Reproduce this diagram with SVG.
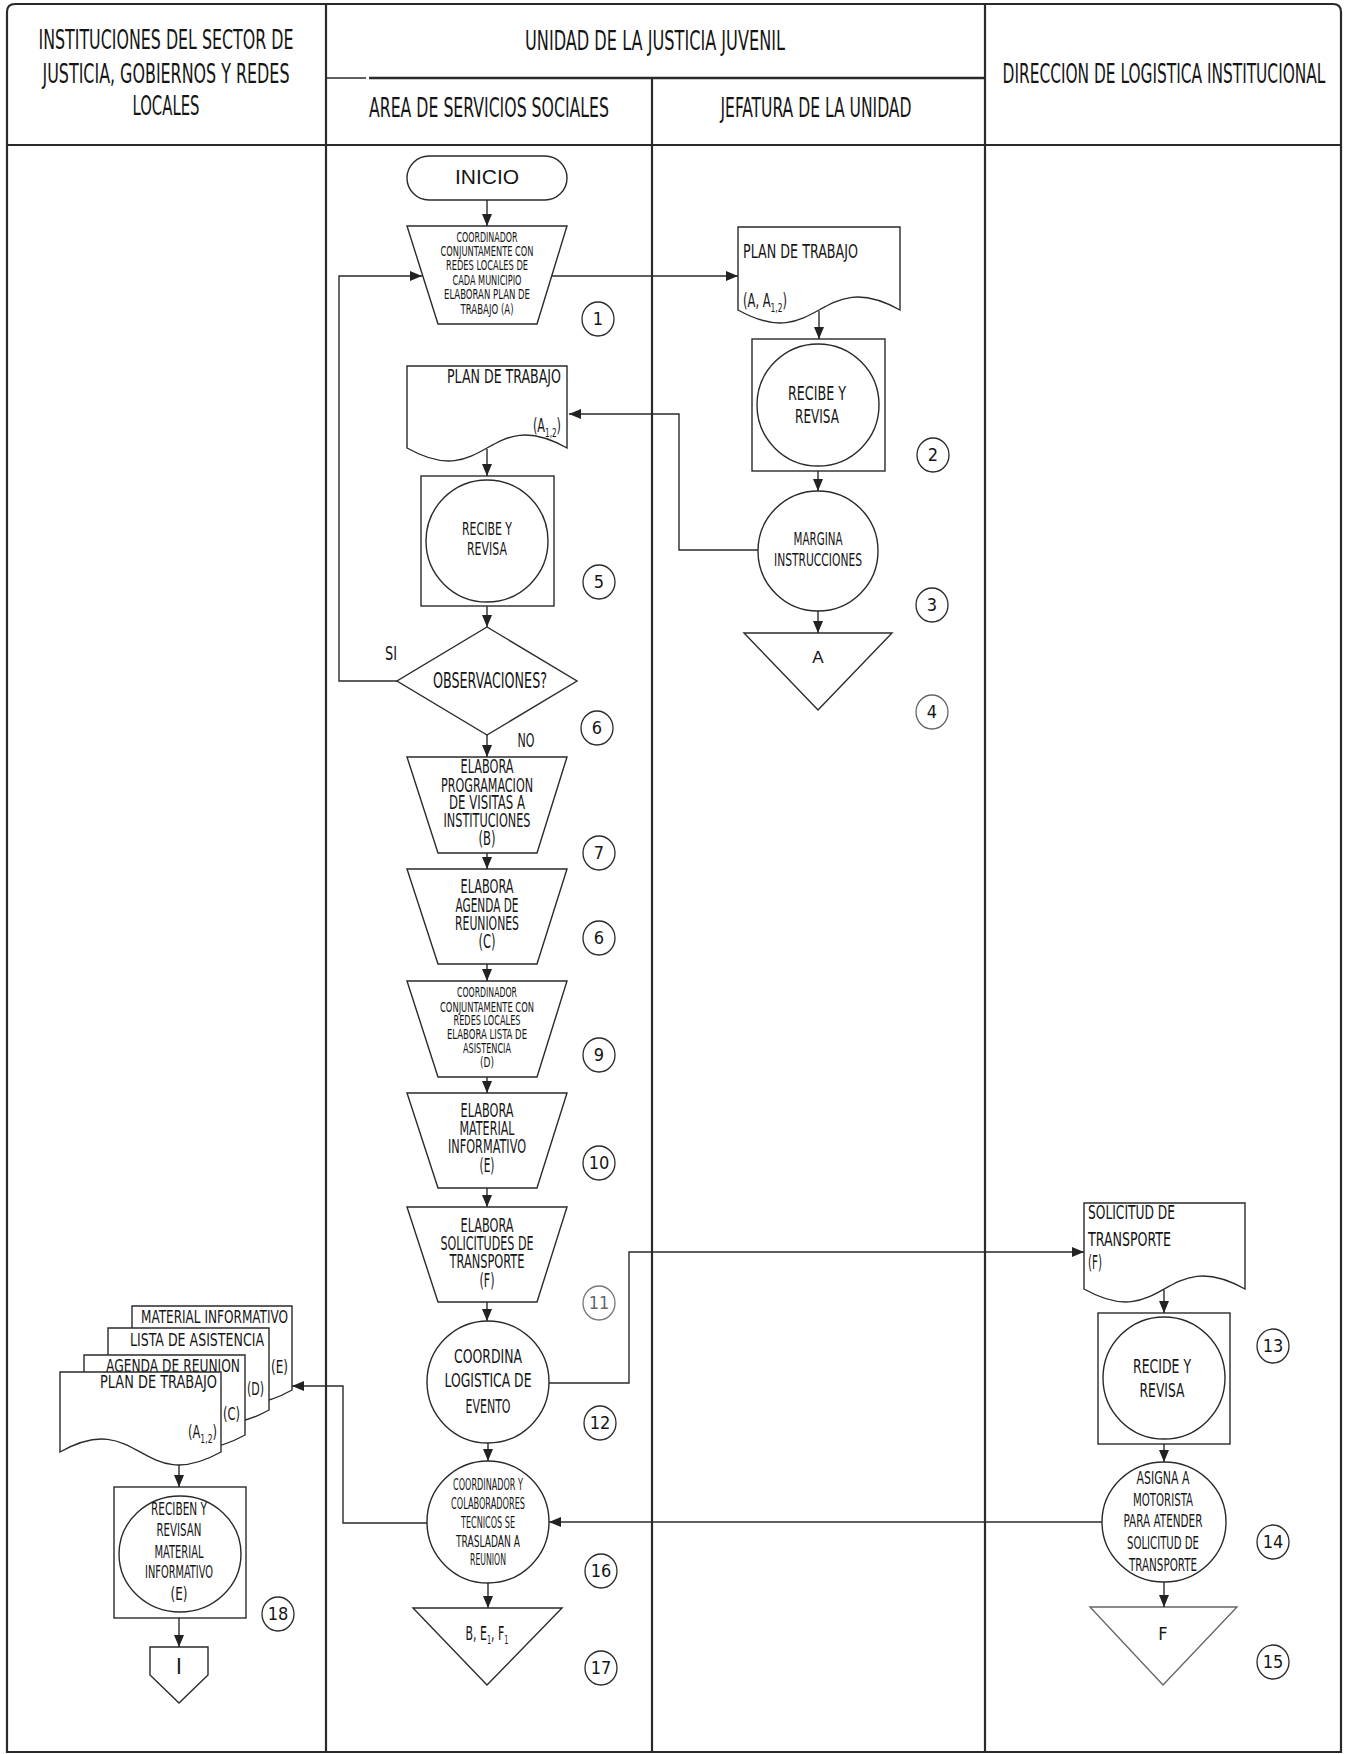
<svg xmlns="http://www.w3.org/2000/svg" width="1346" height="1754" viewBox="0 0 1346 1754">
<defs>
<marker id="ah" viewBox="0 0 12 10" refX="12" refY="5" markerWidth="12" markerHeight="10" markerUnits="userSpaceOnUse" orient="auto"><path d="M0,0 L12,5 L0,10 Z" fill="#222"/></marker>
</defs>
<style>
.bd{fill:none;stroke:#2a2a2a;stroke-width:2.2}
.cn{fill:none;stroke:#2a2a2a;stroke-width:1.4;marker-end:url(#ah)}
.sh{fill:#fff;stroke:#2a2a2a;stroke-width:1.4}
.t{font-family:"DejaVu Sans Condensed","Liberation Sans Narrow","DejaVu Sans",sans-serif;font-stretch:condensed;fill:#151515;text-anchor:middle}
.s{text-anchor:start}
.e{text-anchor:end}
.ar{font-family:"Liberation Sans",Arial,sans-serif;fill:#151515;text-anchor:middle}
.f14{font-size:14px}.f15{font-size:15px}.f17{font-size:17px}.f18{font-size:18px}.f20{font-size:20px}.f27{font-size:27px}
.num ellipse{fill:#fff;stroke:#2a2a2a;stroke-width:1.3}
.num text{font-family:"DejaVu Sans Condensed","Liberation Sans Narrow","DejaVu Sans",sans-serif;font-stretch:condensed;font-size:18px;fill:#151515;text-anchor:middle}
</style>
<rect width="1346" height="1754" fill="#fff"/>

<g id="frame">
<path class="bd" d="M7,1752 V12 Q7,4 15,4 H1333 Q1341,4 1341,12 V1752 Z"/>
<path class="bd" d="M326,4 V1752 M985,4 V1752 M652,78 V1752 M7,145 H1341"/>
<path d="M326,78 H366" fill="none" stroke="#2a2a2a" stroke-width="1.4"/>
<path d="M369,78 H985" fill="none" stroke="#2a2a2a" stroke-width="2.6"/>
</g>

<g id="header">
<text class="t f27" x="166" y="49" textLength="255" lengthAdjust="spacingAndGlyphs">INSTITUCIONES DEL SECTOR  DE</text>
<text class="t f27" x="166" y="83" textLength="247" lengthAdjust="spacingAndGlyphs">JUSTICIA, GOBIERNOS Y REDES</text>
<text class="t f27" x="166" y="115" textLength="67" lengthAdjust="spacingAndGlyphs">LOCALES</text>
<text class="t f27" x="655" y="50" textLength="260" lengthAdjust="spacingAndGlyphs">UNIDAD DE LA JUSTICIA JUVENIL</text>
<text class="t f27" x="489" y="117" textLength="240" lengthAdjust="spacingAndGlyphs">AREA DE SERVICIOS SOCIALES</text>
<text class="t f27" x="816" y="117" textLength="191" lengthAdjust="spacingAndGlyphs">JEFATURA DE LA UNIDAD</text>
<text class="t f27" transform="translate(1164,83) scale(0.6,1)" x="0" y="0" textLength="538" lengthAdjust="spacingAndGlyphs">DIRECCION DE LOGISTICA INSTITUCIONAL</text>
</g>

<g id="inicio">
<rect class="sh" x="407" y="156" width="160" height="44" rx="22"/>
<text class="ar" x="487" y="184" font-size="21">INICIO</text>
</g>

<g id="p1">
<path class="sh" d="M407,226 H567 L537,324 H438 Z"/>
<text class="t f14" x="487" y="242" textLength="61" lengthAdjust="spacingAndGlyphs">COORDINADOR</text>
<text class="t f14" x="487" y="256" textLength="93" lengthAdjust="spacingAndGlyphs">CONJUNTAMENTE CON</text>
<text class="t f14" x="487" y="270" textLength="82" lengthAdjust="spacingAndGlyphs">REDES LOCALES DE</text>
<text class="t f14" x="487" y="285" textLength="69" lengthAdjust="spacingAndGlyphs">CADA MUNICIPIO</text>
<text class="t f14" x="487" y="299" textLength="86" lengthAdjust="spacingAndGlyphs">ELABORAN  PLAN DE</text>
<text class="t f14" x="487" y="314" textLength="53" lengthAdjust="spacingAndGlyphs">TRABAJO (A)</text>
</g>

<g id="doc-jefatura">
<path class="sh" d="M738,227 H900 V310 C819,265 819,355 738,310 Z"/>
<text class="t s f20" x="743" y="258" textLength="115" lengthAdjust="spacingAndGlyphs">PLAN DE TRABAJO</text>
<text class="t s f20" x="743" y="307" textLength="44" lengthAdjust="spacingAndGlyphs">(A, A<tspan font-size="13" dy="5">1,2</tspan><tspan dy="-5">)</tspan></text>
</g>

<g id="recibe-jefatura">
<rect class="sh" x="752" y="339" width="133" height="132"/>
<circle class="sh" cx="818" cy="405" r="61"/>
<text class="t f20" x="817" y="400" textLength="58" lengthAdjust="spacingAndGlyphs">RECIBE Y</text>
<text class="t f20" x="817" y="423" textLength="44" lengthAdjust="spacingAndGlyphs">REVISA</text>
</g>

<g id="margina">
<circle class="sh" cx="818" cy="551" r="60"/>
<text class="t f17" x="818" y="545" textLength="49" lengthAdjust="spacingAndGlyphs">MARGINA</text>
<text class="t f17" x="818" y="566" textLength="88" lengthAdjust="spacingAndGlyphs">INSTRUCCIONES</text>
</g>

<g id="archivo-a">
<path class="sh" d="M744,633 H892 L818,710 Z"/>
<text class="ar" x="818" y="663" font-size="17">A</text>
</g>

<g id="doc-area">
<path class="sh" d="M407,366 H567 V448 C487,403 487,493 407,448 Z"/>
<text class="t e f20" x="561" y="383" textLength="114" lengthAdjust="spacingAndGlyphs">PLAN DE TRABAJO</text>
<text class="t e f20" x="561" y="432" textLength="28" lengthAdjust="spacingAndGlyphs">(A<tspan font-size="13" dy="5">1,2</tspan><tspan dy="-5">)</tspan></text>
</g>

<g id="recibe-area">
<rect class="sh" x="421" y="476" width="133" height="130"/>
<circle class="sh" cx="487" cy="541" r="61"/>
<text class="t f18" x="487" y="535" textLength="50" lengthAdjust="spacingAndGlyphs">RECIBE Y</text>
<text class="t f18" x="487" y="555" textLength="40" lengthAdjust="spacingAndGlyphs">REVISA</text>
</g>

<g id="decision">
<path class="sh" d="M487,627 L577,681 L487,735 L397,681 Z"/>
<text class="t" font-size="21" x="490" y="688" textLength="114" lengthAdjust="spacingAndGlyphs">OBSERVACIONES?</text>
<text class="t f20" x="391" y="660" textLength="12" lengthAdjust="spacingAndGlyphs">SI</text>
<text class="t f20" x="526" y="747" textLength="17" lengthAdjust="spacingAndGlyphs">NO</text>
</g>

<g id="p7">
<path class="sh" d="M407,757 H567 L537,853 H438 Z"/>
<text class="t f20" x="487" y="773" textLength="53" lengthAdjust="spacingAndGlyphs">ELABORA</text>
<text class="t f20" x="487" y="792" textLength="92" lengthAdjust="spacingAndGlyphs">PROGRAMACION</text>
<text class="t f20" x="487" y="809" textLength="76" lengthAdjust="spacingAndGlyphs">DE VISITAS A</text>
<text class="t f20" x="487" y="827" textLength="87" lengthAdjust="spacingAndGlyphs">INSTITUCIONES</text>
<text class="t f20" x="487" y="845" textLength="17" lengthAdjust="spacingAndGlyphs">(B)</text>
</g>

<g id="p8">
<path class="sh" d="M407,869 H567 L537,964 H438 Z"/>
<text class="t f20" x="487" y="893" textLength="53" lengthAdjust="spacingAndGlyphs">ELABORA</text>
<text class="t f20" x="487" y="912" textLength="63" lengthAdjust="spacingAndGlyphs">AGENDA DE</text>
<text class="t f20" x="487" y="930" textLength="64" lengthAdjust="spacingAndGlyphs">REUNIONES</text>
<text class="t f20" x="487" y="948" textLength="17" lengthAdjust="spacingAndGlyphs">(C)</text>
</g>

<g id="p9">
<path class="sh" d="M407,981 H567 L537,1077 H438 Z"/>
<text class="t f14" x="487" y="997" textLength="60" lengthAdjust="spacingAndGlyphs">COORDINADOR</text>
<text class="t f14" x="487" y="1012" textLength="94" lengthAdjust="spacingAndGlyphs">CONJUNTAMENTE CON</text>
<text class="t f14" x="487" y="1025" textLength="67" lengthAdjust="spacingAndGlyphs">REDES LOCALES</text>
<text class="t f14" x="487" y="1039" textLength="80" lengthAdjust="spacingAndGlyphs">ELABORA  LISTA DE</text>
<text class="t f14" x="487" y="1053" textLength="48" lengthAdjust="spacingAndGlyphs">ASISTENCIA</text>
<text class="t f14" x="487" y="1067" textLength="14" lengthAdjust="spacingAndGlyphs">(D)</text>
</g>

<g id="p10">
<path class="sh" d="M407,1093 H567 L537,1188 H438 Z"/>
<text class="t f20" x="487" y="1117" textLength="53" lengthAdjust="spacingAndGlyphs">ELABORA</text>
<text class="t f20" x="487" y="1135" textLength="55" lengthAdjust="spacingAndGlyphs">MATERIAL</text>
<text class="t f20" x="487" y="1153" textLength="78" lengthAdjust="spacingAndGlyphs">INFORMATIVO</text>
<text class="t f20" x="487" y="1172" textLength="15" lengthAdjust="spacingAndGlyphs">(E)</text>
</g>

<g id="p11">
<path class="sh" d="M407,1207 H567 L537,1302 H438 Z"/>
<text class="t f20" x="487" y="1232" textLength="53" lengthAdjust="spacingAndGlyphs">ELABORA</text>
<text class="t f20" x="487" y="1250" textLength="93" lengthAdjust="spacingAndGlyphs">SOLICITUDES DE</text>
<text class="t f20" x="487" y="1268" textLength="75" lengthAdjust="spacingAndGlyphs">TRANSPORTE</text>
<text class="t f20" x="487" y="1287" textLength="15" lengthAdjust="spacingAndGlyphs">(F)</text>
</g>

<g id="coordina">
<circle class="sh" cx="488" cy="1382" r="61"/>
<text class="t f20" x="488" y="1363" textLength="68" lengthAdjust="spacingAndGlyphs">COORDINA</text>
<text class="t f20" x="488" y="1387" textLength="87" lengthAdjust="spacingAndGlyphs">LOGISTICA DE</text>
<text class="t f20" x="488" y="1413" textLength="45" lengthAdjust="spacingAndGlyphs">EVENTO</text>
</g>

<g id="traslado">
<circle class="sh" cx="488" cy="1522" r="61"/>
<text class="t f15" x="488" y="1490" textLength="70" lengthAdjust="spacingAndGlyphs">COORDINADOR Y</text>
<text class="t f15" x="488" y="1509" textLength="74" lengthAdjust="spacingAndGlyphs">COLABORADORES</text>
<text class="t f15" x="488" y="1528" textLength="54" lengthAdjust="spacingAndGlyphs">TECNICOS SE</text>
<text class="t f15" x="488" y="1547" textLength="64" lengthAdjust="spacingAndGlyphs">TRASLADAN  A</text>
<text class="t f15" x="488" y="1565" textLength="36" lengthAdjust="spacingAndGlyphs">REUNION</text>
</g>

<g id="archivo-bef">
<path class="sh" d="M413,1608 H562 L487,1685 Z"/>
<text class="t f20" x="487" y="1640" textLength="43" lengthAdjust="spacingAndGlyphs">B, E<tspan font-size="12" dy="4">1</tspan><tspan dy="-4">, F</tspan><tspan font-size="12" dy="4">1</tspan></text>
</g>

<g id="doc-solicitud">
<path class="sh" d="M1084,1203 H1245 V1289 C1164,1244 1164,1334 1084,1289 Z"/>
<text class="t s" font-size="19" x="1088" y="1219" textLength="87" lengthAdjust="spacingAndGlyphs">SOLICITUD DE</text>
<text class="t s" font-size="19" x="1088" y="1246" textLength="83" lengthAdjust="spacingAndGlyphs">TRANSPORTE</text>
<text class="t s" font-size="19" x="1088" y="1269" textLength="14" lengthAdjust="spacingAndGlyphs">(F)</text>
</g>

<g id="recide-direccion">
<rect class="sh" x="1098" y="1313" width="132" height="131"/>
<circle class="sh" cx="1164" cy="1378" r="61"/>
<text class="t f20" x="1162" y="1373" textLength="58" lengthAdjust="spacingAndGlyphs">RECIDE Y</text>
<text class="t f20" x="1162" y="1397" textLength="45" lengthAdjust="spacingAndGlyphs" fill="#666">REVISA</text>
</g>

<g id="asigna">
<ellipse class="sh" cx="1164" cy="1522" rx="62" ry="60"/>
<text class="t f18" x="1163" y="1484" textLength="53" lengthAdjust="spacingAndGlyphs">ASIGNA  A</text>
<text class="t f18" x="1163" y="1506" textLength="60" lengthAdjust="spacingAndGlyphs">MOTORISTA</text>
<text class="t f18" x="1163" y="1527" textLength="79" lengthAdjust="spacingAndGlyphs">PARA ATENDER</text>
<text class="t f18" x="1163" y="1549" textLength="72" lengthAdjust="spacingAndGlyphs">SOLICITUD DE</text>
<text class="t f18" x="1163" y="1571" textLength="68" lengthAdjust="spacingAndGlyphs">TRANSPORTE</text>
</g>

<g id="archivo-f">
<path d="M1090,1607 H1237 L1163,1685 Z" fill="#fff" stroke="#666" stroke-width="1.4"/>
<text class="t f18" x="1163" y="1640" fill="#444">F</text>
</g>

<g id="docs-recibidos">
<path class="sh" d="M132,1306 H292 V1390 C212,1435 212,1345 132,1390 Z"/>
<text class="t s f18" x="141" y="1323" textLength="147" lengthAdjust="spacingAndGlyphs">MATERIAL INFORMATIVO</text>
<text class="t e f18" x="288" y="1373" textLength="17" lengthAdjust="spacingAndGlyphs">(E)</text>
<path class="sh" d="M108,1328 H269 V1410 C188,1455 188,1365 108,1410 Z"/>
<text class="t s f18" x="130" y="1346" textLength="134" lengthAdjust="spacingAndGlyphs">LISTA DE ASISTENCIA</text>
<text class="t e f18" x="264" y="1395" textLength="17" lengthAdjust="spacingAndGlyphs">(D)</text>
<path class="sh" d="M84,1355 H245 V1435 C164,1480 164,1390 84,1435 Z"/>
<text class="t s f18" x="106" y="1372" textLength="134" lengthAdjust="spacingAndGlyphs">AGENDA DE REUNION</text>
<text class="t e f18" x="240" y="1420" textLength="17" lengthAdjust="spacingAndGlyphs">(C)</text>
<path class="sh" d="M60,1372 H221 V1452 C140,1497 140,1407 60,1452 Z"/>
<text class="t s f18" x="100" y="1388" textLength="117" lengthAdjust="spacingAndGlyphs">PLAN DE TRABAJO</text>
<text class="t e f18" x="217" y="1438" textLength="29" lengthAdjust="spacingAndGlyphs">(A<tspan font-size="12" dy="5">1,2</tspan><tspan dy="-5">)</tspan></text>
</g>

<g id="reciben">
<rect class="sh" x="114" y="1487" width="132" height="131"/>
<ellipse class="sh" cx="180" cy="1554" rx="61" ry="58"/>
<text class="t f17" x="179" y="1515" textLength="56" lengthAdjust="spacingAndGlyphs">RECIBEN Y</text>
<text class="t f17" x="179" y="1536" textLength="45" lengthAdjust="spacingAndGlyphs">REVISAN</text>
<text class="t f17" x="179" y="1558" textLength="49" lengthAdjust="spacingAndGlyphs">MATERIAL</text>
<text class="t f17" x="179" y="1578" textLength="68" lengthAdjust="spacingAndGlyphs">INFORMATIVO</text>
<text class="t f17" x="179" y="1600" textLength="17" lengthAdjust="spacingAndGlyphs">(E)</text>
</g>

<g id="conector-i">
<path class="sh" d="M150,1647 H208 V1675 L179,1703 L150,1675 Z"/>
<text class="t" font-size="22" x="179" y="1674">I</text>
</g>

<g id="numeros" class="num">
<g id="n1"><ellipse cx="598" cy="319" rx="16" ry="17"/><text x="598" y="325">1</text></g>
<g id="n2"><ellipse cx="933" cy="455" rx="16" ry="17"/><text x="933" y="461">2</text></g>
<g id="n3"><ellipse cx="932" cy="605" rx="16" ry="17"/><text x="932" y="611">3</text></g>
<g id="n4"><ellipse cx="932" cy="712" rx="16" ry="17" style="stroke:#666"/><text x="932" y="718">4</text></g>
<g id="n5"><ellipse cx="599" cy="582" rx="16" ry="17"/><text x="599" y="588">5</text></g>
<g id="n6"><ellipse cx="597" cy="728" rx="16" ry="17"/><text x="597" y="734">6</text></g>
<g id="n7"><ellipse cx="599" cy="853" rx="16" ry="17"/><text x="599" y="859">7</text></g>
<g id="n8"><ellipse cx="599" cy="938" rx="16" ry="17"/><text x="599" y="944">6</text></g>
<g id="n9"><ellipse cx="599" cy="1055" rx="16" ry="17"/><text x="599" y="1061">9</text></g>
<g id="n10"><ellipse cx="599" cy="1163" rx="16" ry="17"/><text x="599" y="1169">10</text></g>
<g id="n11"><ellipse cx="599" cy="1303" rx="16" ry="17" style="stroke:#777"/><text x="599" y="1309" style="fill:#666">11</text></g>
<g id="n12"><ellipse cx="600" cy="1423" rx="16" ry="17"/><text x="600" y="1429">12</text></g>
<g id="n13"><ellipse cx="1273" cy="1346" rx="16" ry="17"/><text x="1273" y="1352">13</text></g>
<g id="n14"><ellipse cx="1273" cy="1542" rx="16" ry="17"/><text x="1273" y="1548">14</text></g>
<g id="n15"><ellipse cx="1273" cy="1662" rx="16" ry="17"/><text x="1273" y="1668">15</text></g>
<g id="n16"><ellipse cx="601" cy="1571" rx="16" ry="17"/><text x="601" y="1577">16</text></g>
<g id="n17"><ellipse cx="601" cy="1668" rx="16" ry="17"/><text x="601" y="1674">17</text></g>
<g id="n18"><ellipse cx="278" cy="1614" rx="16" ry="17"/><text x="278" y="1620">18</text></g>
</g>

<g id="connectors">
<path class="cn" d="M487,200 V226"/>
<path class="cn" d="M552,276 H738"/>
<path class="cn" d="M819,311 V339"/>
<path class="cn" d="M818,471 V491"/>
<path class="cn" d="M758,550 H679 V414 H569"/>
<path class="cn" d="M818,611 V633"/>
<path class="cn" d="M487,449 V476"/>
<path class="cn" d="M487,606 V627"/>
<path class="cn" d="M397,681 H339 V276 H422"/>
<path class="cn" d="M487,735 V757"/>
<path class="cn" d="M487,853 V869"/>
<path class="cn" d="M487,964 V981"/>
<path class="cn" d="M487,1077 V1093"/>
<path class="cn" d="M487,1188 V1207"/>
<path class="cn" d="M487,1302 V1321"/>
<path class="cn" d="M549,1383 H629 V1252 H1084"/>
<path class="cn" d="M1164,1290 V1313"/>
<path class="cn" d="M1164,1444 V1462"/>
<path class="cn" d="M1102,1522 H549"/>
<path class="cn" d="M1164,1582 V1607"/>
<path class="cn" d="M488,1443 V1461"/>
<path class="cn" d="M427,1523 H343 V1386 H292"/>
<path class="cn" d="M488,1583 V1608"/>
<path class="cn" d="M179,1465 V1487"/>
<path class="cn" d="M179,1618 V1647"/>
</g>
</svg>
